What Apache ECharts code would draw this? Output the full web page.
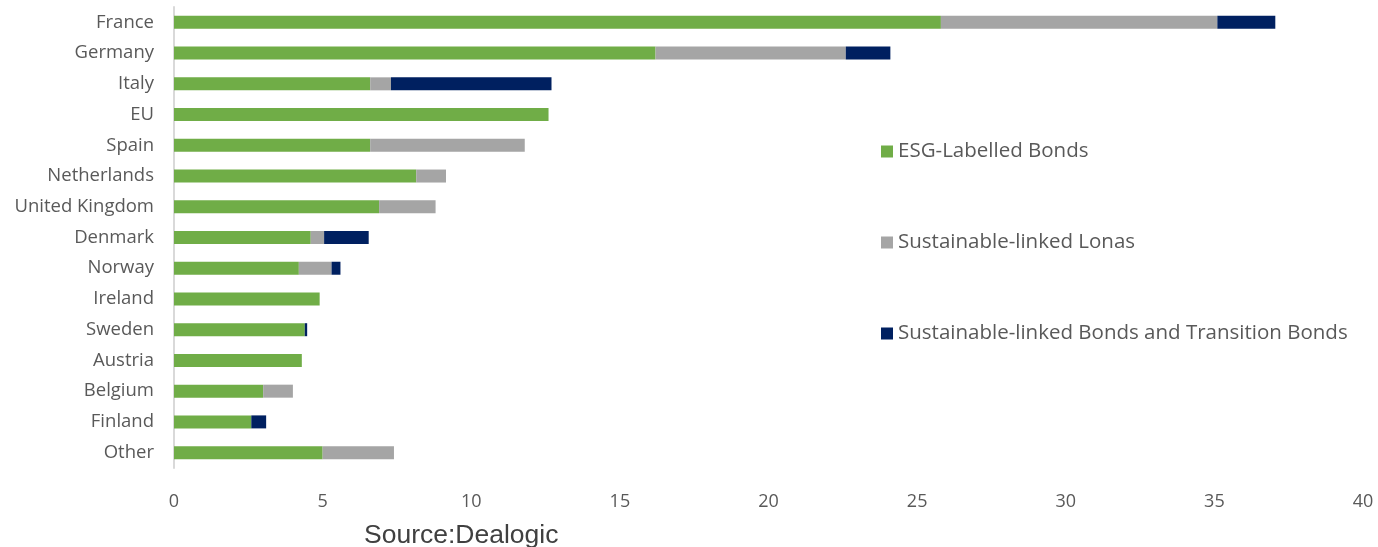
<!DOCTYPE html>
<html>
<head>
<meta charset="utf-8" />
<title>ESG bonds by country</title>
<script src="https://cdn.jsdelivr.net/npm/echarts@6/dist/echarts.min.js"></script>
<style>
  html, body { margin: 0; padding: 0; background: #fff; }
  #container { width: 1378px; height: 547px; }
</style>
</head>
<body>
<div id="container"></div>
<script type="text/javascript">
  // categories, top to bottom
  var countries = ['France', 'Germany', 'Italy', 'EU', 'Spain', 'Netherlands', 'United Kingdom',
    'Denmark', 'Norway', 'Ireland', 'Sweden', 'Austria', 'Belgium', 'Finland', 'Other'];

  // series values
  var esgLabelled   = [25.8, 16.2, 6.6, 12.6, 6.6, 8.15, 6.9, 4.6, 4.2, 4.9, 4.4, 4.3, 3.0, 2.6, 5.0];
  var slLoans       = [9.3, 6.4, 0.7, 0, 5.2, 1.0, 1.9, 0.45, 1.1, 0, 0, 0, 1.0, 0, 2.4];
  var slBondsTrans  = [1.95, 1.5, 5.4, 0, 0, 0, 0, 1.5, 0.3, 0, 0.08, 0, 0, 0.5, 0];

  var seriesNames = ['ESG-Labelled Bonds', 'Sustainable-linked Lonas', 'Sustainable-linked Bonds and Transition Bonds'];
  var xTicks = [0, 5, 10, 15, 20, 25, 30, 35, 40];

  var textColor = '#595959';
  var fontFam = '"Open Sans", "Noto Sans", sans-serif';

  var dom = document.getElementById('container');
  var myChart = echarts.init(dom, null, { renderer: 'canvas' });

  function bar(name, data, color) {
    return {
      name: name,
      type: 'bar',
      stack: 'total',
      barWidth: 13,
      data: data,
      itemStyle: { color: color },
      emphasis: { disabled: true }
    };
  }

  var option = {
    animation: false,
    textStyle: { fontFamily: fontFam },
    grid: { left: 174, right: 15, top: 7, bottom: 79, containLabel: false },
    legend: {
      orient: 'vertical',
      left: 876,
      top: 136,
      itemGap: 70,
      itemWidth: 12,
      itemHeight: 12,
      icon: 'rect',
      textStyle: { color: textColor, fontSize: 20.5, fontFamily: fontFam },
      data: seriesNames
    },
    xAxis: {
      type: 'value',
      min: xTicks[0],
      max: xTicks[xTicks.length - 1],
      interval: 5,
      axisLine: { show: false },
      axisTick: { show: false },
      splitLine: { show: false },
      axisLabel: { color: textColor, fontSize: 18, margin: 25 }
    },
    yAxis: {
      type: 'category',
      inverse: true,
      data: countries,
      axisLine: { show: true, lineStyle: { color: '#d9d9d9', width: 2 } },
      axisTick: { show: false },
      axisLabel: { color: textColor, fontSize: 18.5, margin: 20 }
    },
    graphic: [{
      type: 'text',
      left: 364,
      top: 522,
      style: { text: 'Source:Dealogic', fontSize: 26.5, fill: '#404040', fontFamily: '"Liberation Sans", Arial, sans-serif' }
    }],
    series: [
      bar(seriesNames[0], esgLabelled, '#70ad47'),
      bar(seriesNames[1], slLoans, '#a5a5a5'),
      bar(seriesNames[2], slBondsTrans, '#002060')
    ]
  };

  myChart.setOption(option);
</script>
</body>
</html>
